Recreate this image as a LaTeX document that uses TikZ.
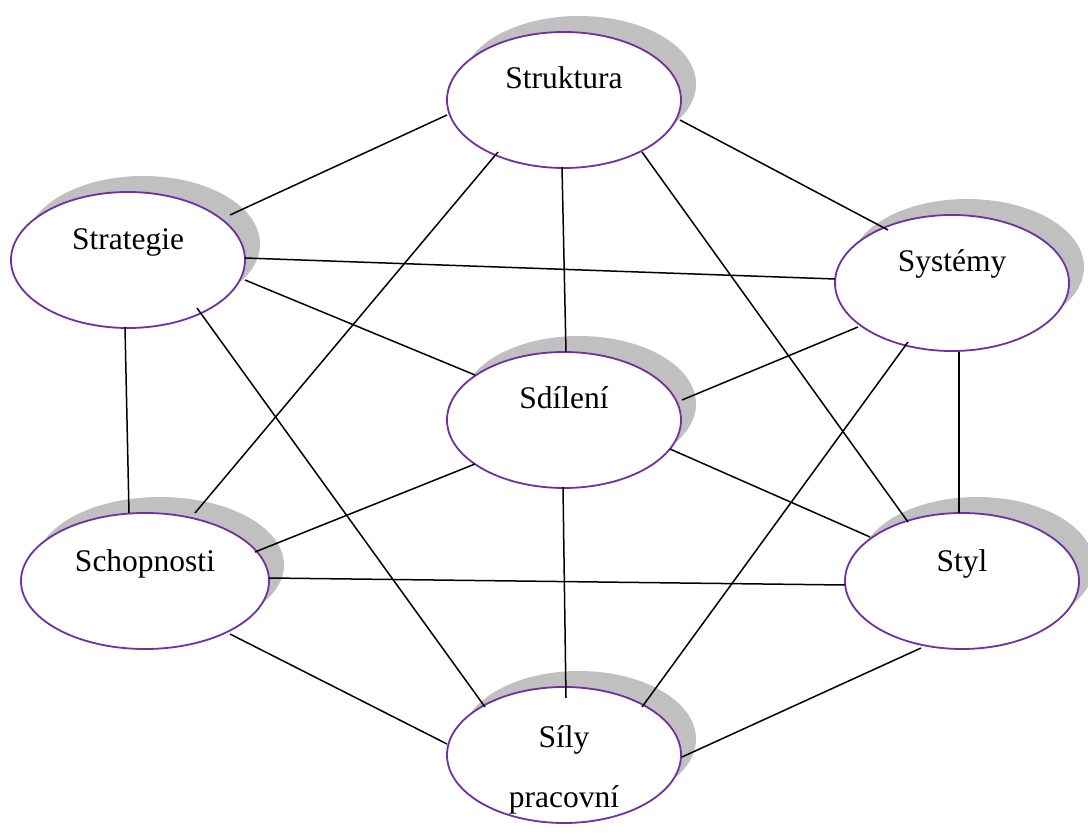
\documentclass[tikz,border=0pt]{standalone}
\usepackage{fontspec}
\setmainfont{Liberation Serif}
\usetikzlibrary{shapes.geometric,shadows}
\definecolor{shd}{RGB}{192,192,192}
\definecolor{vio}{RGB}{112,48,160}
\begin{document}
\begin{tikzpicture}[x=1pt,y=-1pt,
  bub/.style={ellipse, draw=vio, line width=1.8pt, fill=white,
    minimum width=234pt, minimum height=136pt, inner sep=0pt,
    general shadow={fill=shd, shadow xshift=15pt, shadow yshift=16pt}},
  lbl/.style={anchor=base, inner sep=0pt, font=\fontsize{31.5}{38}\selectfont},
  con/.style={line width=1.5pt, draw=black}]
\useasboundingbox (0,0) rectangle (1088,834);
\clip (0,0) rectangle (1088,834);
% ellipses
\node[bub] (struk) at (564,100) {};
\node[bub] (strat) at (128,260) {};
\node[bub] (syst) at (952,283) {};
\node[bub] (sdil) at (564,420) {};
\node[bub, minimum width=248pt] (schop) at (145,581) {};
\node[bub] (styl) at (962,581) {};
\node[bub] (sily) at (564,755) {};
% labels
\node[lbl] (struk-t) at (564,89) {Struktura};
\node[lbl] (strat-t) at (128,250) {Strategie};
\node[lbl] (syst-t) at (952,272) {Systémy};
\node[lbl] (sdil-t) at (564,409) {Sdílení};
\node[lbl] (schop-t) at (145,571) {Schopnosti};
\node[lbl] (styl-t) at (962,571) {Styl};
\node[lbl] (sily-t1) at (564,747) {Síly};
\node[lbl] (sily-t2) at (564,807) {pracovní};
% connectors
\draw[con] ([shift={(-117,15)}]struk.center) -- ([shift={(102,-45)}]strat.center);
\draw[con] ([shift={(116,20)}]struk.center) -- ([shift={(-64,-53)}]syst.center);
\draw[con] ([shift={(-66,52)}]struk.center) -- ([shift={(50,-68)}]schop.center);
\draw[con] ([shift={(-2,67)}]struk.center) -- ([shift={(2,-68)}]sdil.center);
\draw[con] ([shift={(78,52)}]struk.center) -- ([shift={(-54,-59)}]styl.center);
\draw[con] ([shift={(117,-2)}]strat.center) -- ([shift={(-117,-4)}]syst.center);
\draw[con] ([shift={(117,20)}]strat.center) -- ([shift={(-89,-45)}]sdil.center);
\draw[con] ([shift={(-3,67)}]strat.center) -- ([shift={(-16,-68)}]schop.center);
\draw[con] ([shift={(69,48)}]strat.center) -- ([shift={(-79,-48)}]sily.center);
\draw[con] ([shift={(-94,44)}]syst.center) -- ([shift={(118,-20)}]sdil.center);
\draw[con] ([shift={(-44,59)}]syst.center) -- ([shift={(78,-48)}]sily.center);
\draw[con] ([shift={(7,69)}]syst.center) -- ([shift={(-3,-68)}]styl.center);
\draw[con] ([shift={(-89,44)}]sdil.center) -- ([shift={(110,-29)}]schop.center);
\draw[con] ([shift={(106,29)}]sdil.center) -- ([shift={(-92,-44)}]styl.center);
\draw[con] ([shift={(-1,67)}]sdil.center) -- ([shift={(2,-57)}]sily.center);
\draw[con] ([shift={(124,-3)}]schop.center) -- ([shift={(-117,4)}]styl.center);
\draw[con] ([shift={(85,53)}]schop.center) -- ([shift={(-117,-11)}]sily.center);
\draw[con] ([shift={(-41,67)}]styl.center) -- ([shift={(118,2)}]sily.center);
\end{tikzpicture}
\end{document}
